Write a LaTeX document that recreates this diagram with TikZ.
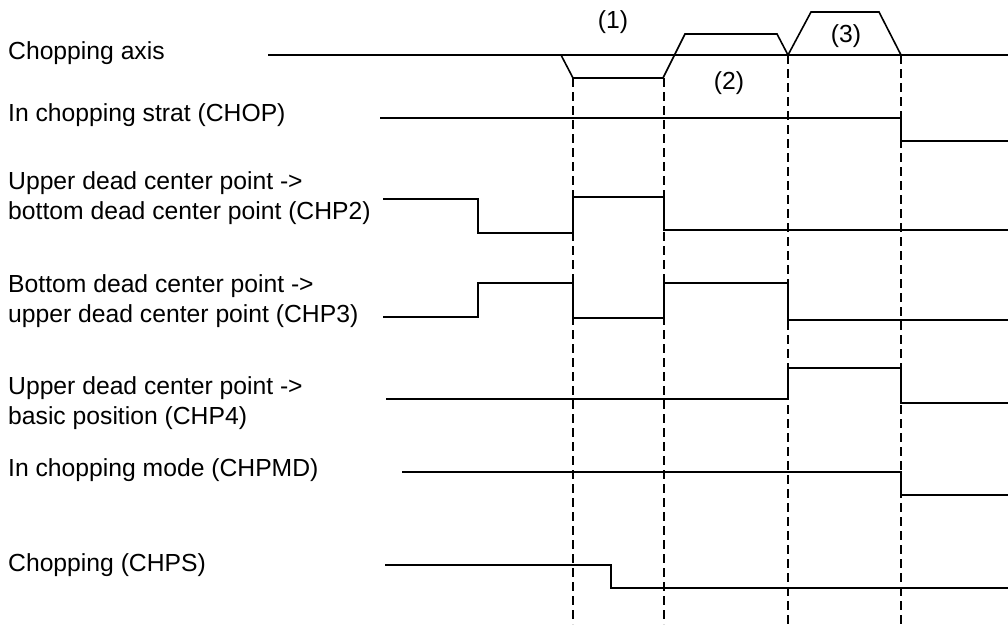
\documentclass[tikz,border=0pt]{standalone}
\usepackage{fontspec}
\setmainfont{Liberation Sans}
\tikzset{
  signal/.style={line width=1.6pt},
  guide/.style={line width=1.4pt, dash pattern=on 9pt off 5pt},
  caption/.style={anchor=base west, inner sep=0pt},
  phase/.style={inner sep=0pt}
}
\begin{document}
\begin{tikzpicture}[x=1pt, y=-1pt, font=\fontsize{24.7}{30}\selectfont]
    \useasboundingbox (0,0) rectangle (1008,624);

    % Signal names
    \node[caption] (axis) at (8,59) {Chopping axis};
    \node[caption] (chop) at (8,121) {In chopping strat (CHOP)};
    \node[caption] (chptwoA) at (8,189) {Upper dead center point ->};
    \node[caption] (chptwoB) at (8,219) {bottom dead center point (CHP2)};
    \node[caption] (chpthreeA) at (8,292) {Bottom dead center point ->};
    \node[caption] (chpthreeB) at (8,322) {upper dead center point (CHP3)};
    \node[caption] (chpfourA) at (8,394) {Upper dead center point ->};
    \node[caption] (chpfourB) at (8,424) {basic position (CHP4)};
    \node[caption] (chpmd) at (8,476) {In chopping mode (CHPMD)};
    \node[caption] (chps) at (8,571) {Chopping (CHPS)};

    % Axis motion
    \draw[signal] (268,55) -- (1008,55);
    \draw[signal] (561,55) -- (573,78) -- (663,78) -- (685,34) -- (777,34)
        -- (788,55) -- (811,12) -- (879,12) -- (901,55);
    \node[phase] (one) at (613,22) {(1)};
    \node[phase] (two) at (729,83) {(2)};
    \node[phase] (three) at (846,36) {(3)};

    % Guide lines
    \foreach \x/\ytop in {573/78, 664/78, 788/55, 901/55} {
        \draw[guide] (\x,\ytop) -- (\x,624);
    }

    % Signals
    \draw[signal] (380,118) -- (901,118) -- (901,141) -- (1008,141);
    \draw[signal] (383,199) -- (478,199) -- (478,233) -- (573,233) -- (573,197)
        -- (664,197) -- (664,230) -- (1008,230);
    \draw[signal] (383,317) -- (478,317) -- (478,283) -- (573,283) -- (573,318)
        -- (664,318) -- (664,283) -- (788,283) -- (788,320) -- (1008,320);
    \draw[signal] (386,399) -- (788,399) -- (788,368) -- (901,368) -- (901,403)
        -- (1008,403);
    \draw[signal] (402,472) -- (901,472) -- (901,495) -- (1008,495);
    \draw[signal] (385,565) -- (611,565) -- (611,588) -- (1008,588);
\end{tikzpicture}
\end{document}
